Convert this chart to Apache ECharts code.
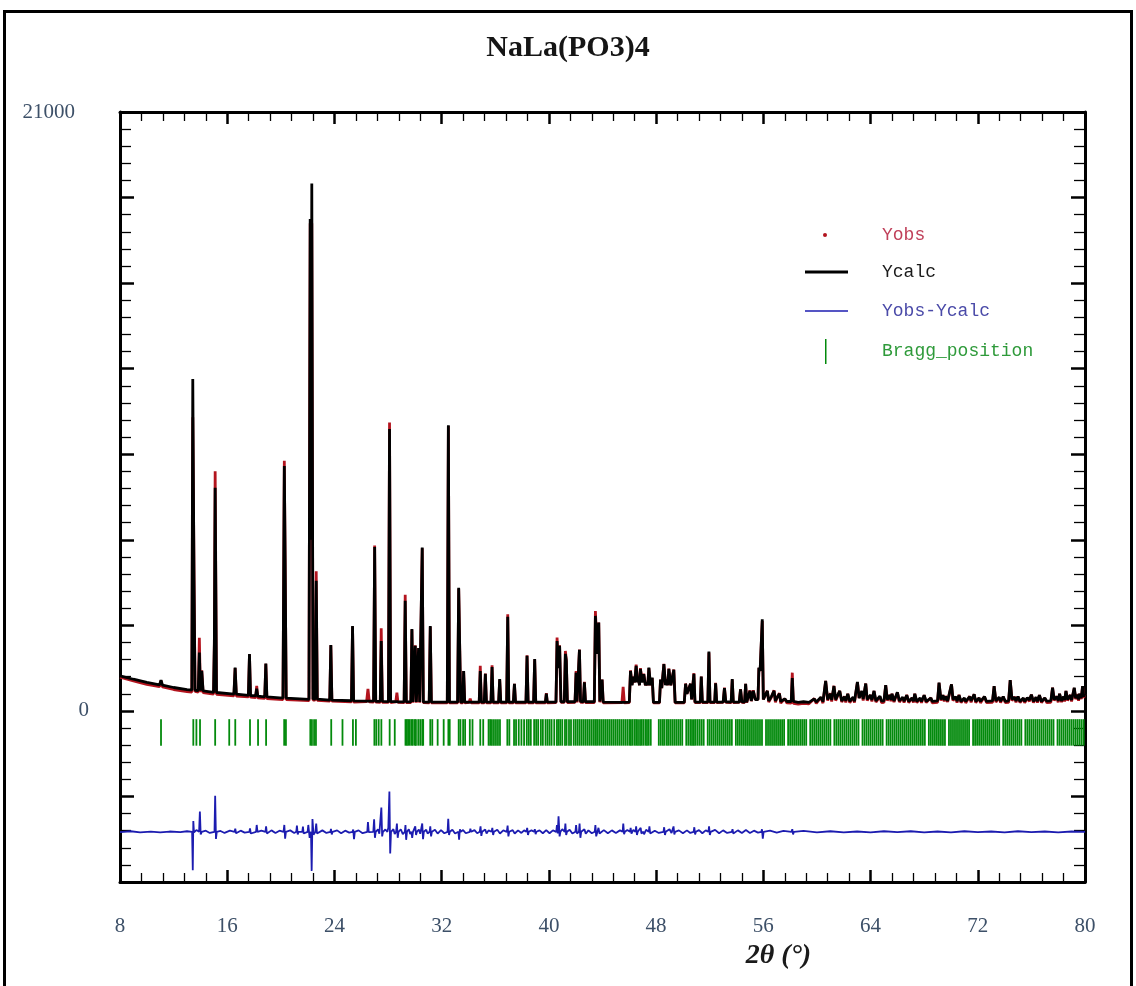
<!DOCTYPE html>
<html>
<head>
<meta charset="utf-8">
<script src="https://cdn.jsdelivr.net/npm/echarts@6/dist/echarts.min.js"></script>
<style>
html,body{margin:0;padding:0;background:#fff;}
#chart{width:1136px;height:986px;}
</style>
</head>
<body>
<div id="chart"></div>
<script>
// ---------------- DATA ----------------
var chartTitle = 'NaLa(PO3)4';
var xTicks = [8, 16, 24, 32, 40, 48, 56, 64, 72, 80];
var yLabelValues = [0, 21000];

// profile vertices: 2theta, calculated and observed counts
var twoTheta = [
 8.0, 9.0, 10.0, 10.95, 11.06, 11.17, 12.0, 13.0, 13.36, 13.43,
 13.52, 13.6, 13.84, 13.92, 14.0, 14.1, 14.2, 14.98, 15.04, 15.1,
 15.2, 16.5, 16.59, 16.68, 17.58, 17.66, 17.74, 18.12, 18.2, 18.28,
 18.8, 18.88, 18.96, 20.16, 20.26, 20.32, 20.4, 22.1, 22.19, 22.25,
 22.31, 22.4, 22.56, 22.64, 22.72, 23.65, 23.73, 23.81, 25.27, 25.35,
 25.43, 26.4, 26.5, 26.6, 26.92, 27.0, 27.08, 27.42, 27.49, 27.57,
 28.03, 28.11, 28.19, 28.58, 28.66, 28.74, 29.2, 29.28, 29.36, 29.7,
 29.78, 29.86, 29.95, 30.03, 30.11, 30.2, 30.28, 30.36, 30.47, 30.55,
 30.63, 31.07, 31.15, 31.23, 32.42, 32.5, 32.58, 33.19, 33.27, 33.35,
 33.42, 33.57, 33.64, 33.72, 34.05, 34.13, 34.21, 34.8, 34.88, 34.96,
 35.18, 35.26, 35.34, 35.68, 35.76, 35.84, 36.25, 36.33, 36.41, 36.85,
 36.93, 37.01, 37.35, 37.43, 37.51, 38.29, 38.37, 38.45, 38.86, 38.94,
 39.02, 39.74, 39.81, 39.88, 40.53, 40.61, 40.7, 40.8, 40.9, 41.15,
 41.23, 41.3, 41.38, 41.95, 42.03, 42.1, 42.2, 42.28, 42.36, 42.57,
 42.65, 42.73, 43.39, 43.47, 43.6, 43.72, 43.8, 43.9, 43.97, 44.05,
 45.45, 45.54, 45.63, 46.0, 46.09, 46.2, 46.3, 46.4, 46.51, 46.62,
 46.7, 46.76, 46.83, 46.95, 47.08, 47.2, 47.3, 47.38, 47.46, 47.58,
 47.71, 47.8, 48.25, 48.33, 48.42, 48.58, 48.7, 48.8, 48.87, 48.95,
 49.1, 49.32, 49.42, 50.1, 50.2, 50.3, 50.57, 50.65, 50.82, 50.9,
 51.3, 51.37, 51.45, 51.86, 51.94, 52.02, 52.37, 52.44, 52.52, 53.0,
 53.1, 53.2, 53.6, 53.68, 53.76, 54.2, 54.3, 54.4, 54.6, 54.68,
 54.76, 55.0, 55.1, 55.25, 55.4, 55.6, 55.67, 55.76, 55.92, 56.0,
 56.15, 56.3, 56.4, 56.6, 56.8, 56.9, 57.05, 57.2, 57.3, 57.6,
 57.75, 58.08, 58.16, 58.24, 58.6, 59.0, 59.4, 59.8, 59.95, 60.3,
 60.45, 60.55, 60.65, 60.8, 61.0, 61.1, 61.27, 61.4, 61.55, 61.7,
 61.85, 62.05, 62.15, 62.3, 62.45, 62.7, 62.8, 62.9, 63.02, 63.15,
 63.35, 63.45, 63.64, 63.75, 64.0, 64.1, 64.26, 64.4, 64.7, 64.82,
 65.0, 65.13, 65.25, 65.45, 65.52, 65.6, 65.75, 66.0, 66.15, 66.4,
 66.5, 66.7, 66.85, 67.1, 67.2, 67.3, 67.45, 67.7, 67.8, 68.0,
 68.15, 68.5, 68.6, 69.0, 69.11, 69.25, 69.4, 69.5, 69.6, 69.75,
 70.04, 70.15, 70.35, 70.45, 70.6, 70.75, 71.0, 71.1, 71.4, 71.5,
 71.73, 71.85, 72.1, 72.2, 72.5, 72.65, 73.1, 73.22, 73.35, 73.6,
 73.7, 73.9, 74.05, 74.3, 74.42, 74.55, 74.75, 74.85, 75.0, 75.15,
 75.4, 75.5, 75.7, 75.85, 76.0, 76.15, 76.35, 76.45, 76.6, 76.75,
 77.0, 77.15, 77.45, 77.58, 77.7, 77.9, 78.0, 78.1, 78.25, 78.4,
 78.48, 78.58, 78.7, 78.9, 79.0, 79.2, 79.3, 79.45, 79.52, 79.6,
 79.72, 79.82, 79.9, 80.0
];
var yCalc = [
 1230, 1110, 1000, 915, 1080, 905, 820, 745, 725, 11640,
 4620, 720, 715, 2050, 710, 1400, 700, 650, 2350, 7820,
 645, 590, 1520, 585, 545, 1990, 540, 525, 780, 515,
 495, 1660, 490, 450, 8590, 5330, 445, 405, 17250, 6000,
 18490, 420, 415, 4560, 410, 380, 2310, 378, 355, 2980,
 352, 345, 345, 342, 340, 5750, 338, 335, 2450, 335,
 325, 9880, 325, 322, 322, 320, 318, 3860, 316, 315,
 2870, 315, 315, 2280, 315, 315, 2200, 312, 312, 5730,
 312, 310, 2980, 310, 305, 10020, 305, 305, 4320, 2100,
 305, 305, 1400, 305, 305, 305, 305, 305, 1400, 305,
 305, 1300, 305, 305, 1540, 305, 305, 1120, 305, 305,
 3300, 305, 305, 950, 305, 305, 1930, 305, 305, 1820,
 305, 305, 600, 305, 310, 2450, 1500, 2280, 320, 320,
 2000, 1750, 320, 320, 1340, 330, 330, 2140, 330, 320,
 1000, 320, 320, 3330, 2000, 3100, 330, 320, 1100, 310,
 300, 300, 300, 310, 1400, 900, 1200, 1000, 1580, 1000,
 1100, 900, 1470, 1000, 1290, 900, 1000, 900, 1520, 900,
 1170, 300, 300, 1100, 800, 1640, 900, 1100, 900, 1470,
 900, 1440, 300, 300, 950, 600, 950, 400, 1300, 310,
 310, 1200, 310, 310, 2080, 310, 310, 970, 310, 310,
 800, 320, 310, 1120, 310, 310, 750, 320, 310, 950,
 310, 700, 350, 700, 400, 400, 1520, 1400, 3210, 400,
 550, 700, 350, 500, 700, 350, 480, 600, 330, 420,
 330, 330, 1150, 330, 300, 320, 300, 420, 310, 480,
 320, 310, 1050, 400, 600, 380, 870, 400, 550, 700,
 350, 500, 350, 600, 330, 480, 340, 350, 1017, 450,
 700, 420, 960, 400, 550, 380, 700, 350, 520, 340,
 350, 900, 400, 550, 380, 600, 350, 650, 350, 480,
 340, 550, 330, 450, 340, 600, 330, 450, 330, 550,
 330, 450, 330, 350, 990, 400, 550, 380, 500, 350,
 930, 400, 500, 340, 550, 330, 450, 330, 500, 350,
 580, 330, 450, 330, 500, 330, 350, 870, 350, 480,
 340, 500, 330, 350, 1080, 400, 480, 350, 500, 330,
 450, 330, 460, 380, 570, 330, 480, 340, 550, 330,
 450, 340, 350, 810, 400, 500, 350, 600, 350, 500,
 380, 700, 400, 550, 380, 810, 450, 550, 400, 600,
 450, 870, 500, 600
];
var yObs = [
 1180, 1050, 930, 850, 1060, 840, 750, 680, 660, 10300,
 5000, 680, 660, 2560, 660, 1420, 640, 590, 2400, 8400,
 580, 530, 1500, 520, 490, 1980, 480, 470, 875, 460,
 440, 1650, 430, 400, 8770, 5300, 400, 360, 17100, 6000,
 17100, 380, 380, 4900, 370, 340, 2300, 340, 320, 2950,
 310, 330, 770, 320, 310, 5800, 310, 300, 2900, 300,
 300, 10110, 290, 320, 640, 300, 290, 4070, 290, 290,
 2850, 290, 290, 2300, 290, 290, 2200, 290, 290, 5700,
 290, 285, 2950, 285, 280, 9990, 280, 280, 4280, 2150,
 280, 280, 1400, 280, 300, 430, 280, 280, 1580, 280,
 280, 1310, 280, 280, 1600, 280, 280, 1100, 280, 280,
 3390, 280, 280, 950, 280, 280, 1950, 280, 280, 1800,
 280, 280, 620, 280, 290, 2570, 1600, 2300, 300, 300,
 2100, 1800, 290, 300, 1400, 300, 300, 2150, 300, 300,
 1020, 290, 290, 3500, 2050, 3100, 300, 300, 1100, 280,
 290, 840, 280, 290, 1420, 920, 1200, 1000, 1620, 1020,
 1100, 900, 1500, 1020, 1300, 900, 1000, 900, 1500, 900,
 1150, 280, 280, 1100, 800, 1650, 920, 1100, 900, 1480,
 900, 1450, 280, 280, 960, 600, 950, 400, 1320, 290,
 290, 1200, 290, 290, 2050, 290, 290, 980, 290, 300,
 820, 300, 290, 1100, 290, 300, 760, 300, 290, 950,
 290, 720, 340, 720, 400, 400, 1500, 1400, 3150, 400,
 560, 700, 310, 480, 720, 300, 500, 620, 270, 430,
 280, 270, 1340, 260, 240, 260, 250, 430, 260, 470,
 270, 260, 1050, 360, 620, 330, 880, 360, 540, 700,
 310, 510, 300, 600, 290, 470, 290, 300, 1010, 450,
 690, 360, 960, 360, 560, 330, 700, 310, 500, 290,
 300, 900, 360, 560, 340, 600, 310, 650, 310, 470,
 290, 560, 290, 460, 290, 600, 290, 440, 280, 550,
 290, 460, 280, 300, 980, 360, 560, 330, 520, 310,
 930, 360, 490, 290, 560, 290, 440, 280, 510, 300,
 580, 290, 460, 280, 500, 290, 300, 870, 310, 470,
 290, 500, 290, 300, 1080, 360, 490, 300, 510, 290,
 440, 280, 460, 330, 570, 290, 470, 290, 550, 290,
 450, 290, 300, 810, 360, 510, 300, 600, 310, 490,
 330, 700, 360, 560, 330, 800, 410, 560, 350, 600,
 410, 870, 460, 600
];

// difference curve (already shifted down, as plotted)
var diffTheta = [
 8.0, 8.8, 9.5, 10.3, 11.0, 11.7, 12.5, 13.0, 13.38, 13.43,
 13.47, 13.52, 13.7, 13.9, 13.96, 14.02, 14.1, 14.4, 14.7, 15.05,
 15.1, 15.16, 15.22, 15.5, 15.8, 16.2, 16.55, 16.6, 16.66, 16.72,
 17.0, 17.3, 17.65, 17.7, 17.76, 17.82, 18.15, 18.2, 18.26, 18.55,
 18.85, 18.9, 18.96, 19.02, 19.3, 19.6, 19.9, 20.2, 20.26, 20.32,
 20.38, 20.7, 21.0, 21.15, 21.2, 21.26, 21.32, 21.6, 21.65, 21.7,
 21.76, 22.0, 22.05, 22.15, 22.25, 22.3, 22.36, 22.44, 22.58, 22.64,
 22.7, 22.76, 23.1, 23.4, 23.7, 23.74, 23.8, 23.86, 24.2, 24.5,
 24.8, 25.1, 25.35, 25.4, 25.46, 25.52, 25.8, 26.1, 26.45, 26.5,
 26.56, 26.62, 26.9, 26.96, 27.02, 27.08, 27.25, 27.35, 27.44, 27.5,
 27.56, 27.62, 27.8, 27.95, 28.02, 28.1, 28.16, 28.22, 28.4, 28.5,
 28.6, 28.66, 28.72, 28.78, 28.95, 29.1, 29.25, 29.3, 29.35, 29.41,
 29.55, 29.65, 29.75, 29.8, 29.86, 29.98, 30.03, 30.09, 30.15, 30.3,
 30.4, 30.5, 30.55, 30.61, 30.67, 30.85, 30.95, 31.1, 31.15, 31.21,
 31.27, 31.5, 31.7, 31.95, 32.2, 32.44, 32.49, 32.55, 32.61, 32.8,
 33.0, 33.25, 33.3, 33.36, 33.42, 33.6, 33.8, 34.1, 34.14, 34.2,
 34.45, 34.65, 34.84, 34.9, 34.96, 35.02, 35.25, 35.35, 35.5, 35.72,
 35.78, 35.84, 35.9, 36.15, 36.35, 36.6, 36.86, 36.92, 36.98, 37.04,
 37.3, 37.45, 37.7, 37.95, 38.15, 38.32, 38.38, 38.44, 38.5, 38.7,
 38.9, 38.95, 39.01, 39.07, 39.3, 39.55, 39.8, 40.05, 40.3, 40.55,
 40.6, 40.66, 40.72, 40.8, 40.86, 41.0, 41.18, 41.23, 41.29, 41.35,
 41.55, 41.75, 41.98, 42.03, 42.09, 42.24, 42.29, 42.35, 42.41, 42.65,
 42.75, 42.95, 43.2, 43.42, 43.47, 43.53, 43.7, 43.78, 43.84, 44.1,
 44.4, 44.7, 45.0, 45.3, 45.5, 45.55, 45.61, 45.67, 45.85, 46.05,
 46.1, 46.16, 46.3, 46.46, 46.51, 46.57, 46.63, 46.75, 46.85, 46.9,
 47.05, 47.1, 47.25, 47.45, 47.5, 47.56, 47.62, 47.9, 48.2, 48.55,
 48.6, 48.66, 48.72, 49.0, 49.15, 49.3, 49.36, 49.42, 49.7, 50.0,
 50.3, 50.55, 50.8, 50.85, 50.91, 50.97, 51.2, 51.45, 51.7, 51.9,
 51.95, 52.01, 52.07, 52.4, 52.7, 53.0, 53.3, 53.65, 53.7, 53.76,
 53.82, 54.1, 54.4, 54.7, 55.0, 55.3, 55.6, 55.85, 55.9, 55.96,
 56.02, 56.5, 57.0, 57.5, 58.1, 58.16, 58.22, 58.28, 59.0, 60.0,
 61.0, 62.0, 63.0, 64.0, 65.0, 66.0, 67.0, 68.0, 69.0, 70.0,
 71.0, 72.0, 73.0, 74.0, 75.0, 76.0, 77.0, 78.0, 79.0, 80.0
];
var diffCounts = [
 -4250, -4220, -4260, -4230, -4260, -4230, -4250, -4220, -4240, -5590,
 -3860, -4260, -4180, -4240, -3530, -4330, -4240, -4200, -4280, -4240,
 -2980, -4490, -4240, -4210, -4280, -4200, -4240, -4130, -4290, -4240,
 -4200, -4270, -4240, -4120, -4300, -4240, -4240, -4000, -4240, -4200,
 -4240, -4050, -4300, -4240, -4190, -4280, -4200, -4240, -4000, -4480,
 -4240, -4190, -4280, -4240, -4020, -4330, -4240, -4240, -4060, -4300,
 -4240, -4240, -4000, -4450, -4240, -5610, -3790, -4340, -4240, -3950,
 -4300, -4240, -4190, -4280, -4240, -4140, -4330, -4240, -4190, -4290,
 -4200, -4270, -4240, -4160, -4500, -4240, -4190, -4290, -4240, -3900,
 -4250, -4240, -4240, -3800, -4450, -4240, -4150, -4310, -4240, -3390,
 -4400, -4240, -4160, -4240, -4100, -2830, -5000, -4240, -4150, -4320,
 -4240, -3950, -4450, -4240, -4150, -4320, -4240, -4000, -4520, -4240,
 -4150, -4320, -4240, -4450, -4240, -4240, -4050, -4350, -4240, -4160,
 -4310, -4240, -3950, -4500, -4240, -4170, -4300, -4240, -4050, -4400,
 -4240, -4170, -4300, -4180, -4290, -4240, -3780, -4350, -4240, -4170,
 -4300, -4240, -4520, -4150, -4240, -4180, -4290, -4240, -4130, -4240,
 -4180, -4290, -4240, -4050, -4380, -4240, -4160, -4300, -4190, -4240,
 -4100, -4350, -4240, -4170, -4300, -4190, -4240, -4020, -4400, -4240,
 -4180, -4300, -4190, -4280, -4190, -4240, -4100, -4350, -4240, -4190,
 -4240, -4150, -4320, -4240, -4190, -4290, -4180, -4290, -4190, -4240,
 -4000, -4300, -3700, -4400, -4240, -4150, -4240, -3950, -4350, -4240,
 -4170, -4300, -4240, -4000, -4300, -4240, -3950, -4450, -4240, -4150,
 -4310, -4190, -4290, -4240, -4000, -4400, -4100, -4300, -4240, -4180,
 -4290, -4190, -4280, -4190, -4240, -3950, -4320, -4240, -4180, -4240,
 -4100, -4300, -4170, -4240, -4050, -4350, -4240, -4170, -4100, -4300,
 -4240, -4330, -4170, -4240, -4050, -4300, -4240, -4200, -4280, -4240,
 -4080, -4350, -4240, -4150, -4280, -4050, -4330, -4240, -4190, -4290,
 -4190, -4280, -4240, -4080, -4330, -4240, -4180, -4290, -4190, -4240,
 -4050, -4350, -4240, -4170, -4290, -4190, -4280, -4240, -4150, -4300,
 -4240, -4190, -4280, -4180, -4280, -4200, -4270, -4240, -4150, -4480,
 -4240, -4200, -4270, -4210, -4240, -4150, -4330, -4240, -4210, -4260,
 -4220, -4260, -4230, -4260, -4220, -4250, -4220, -4260, -4230, -4260,
 -4220, -4250, -4230, -4260, -4220, -4250, -4230, -4260, -4230, -4240
];

// Bragg reflection positions (2theta)
var braggPos = [
 11.06, 13.47, 13.7, 13.97, 15.1, 16.15, 16.6, 17.7, 18.3, 18.9,
 20.25, 20.38, 22.2, 22.32, 22.48, 22.62, 23.76, 24.6, 25.38, 25.6,
 26.98, 27.12, 27.3, 27.5, 28.12, 28.5, 29.3, 29.4, 29.5, 29.62,
 29.75, 29.85, 30.0, 30.08, 30.25, 30.4, 30.55, 30.62, 31.15, 31.3,
 31.7, 32.15, 32.5, 32.6, 33.27, 33.4, 33.6, 33.75, 34.1, 34.3,
 34.88, 35.1, 35.5, 35.62, 35.75, 35.9, 36.05, 36.2, 36.35, 36.9,
 37.05, 37.4, 37.55, 37.75, 37.95, 38.15, 38.35, 38.5, 38.65, 38.9,
 39.05, 39.2, 39.4, 39.55, 39.75, 39.9, 40.05, 40.2, 40.4, 40.6,
 40.72, 40.85, 41.0, 41.2, 41.32, 41.5, 41.65, 41.85, 42.0, 42.15,
 42.3, 42.45, 42.6, 42.75, 42.9, 43.05, 43.2, 43.35, 43.48, 43.6,
 43.75, 43.9, 44.05, 44.2, 44.35, 44.5, 44.65, 44.8, 44.95, 45.1,
 45.25, 45.4, 45.55, 45.7, 45.85, 46.0, 46.12, 46.25, 46.4, 46.52,
 46.65, 46.8, 46.92, 47.05, 47.2, 47.32, 47.45, 47.6,
 48.2, 48.35, 48.5, 48.62, 48.78, 48.9, 49.05, 49.2, 49.35, 49.5,
 49.65, 49.8, 49.95, 50.25, 50.4, 50.55, 50.68, 50.82, 50.95, 51.1,
 51.25, 51.4, 51.55, 51.85, 52.0, 52.15, 52.3, 52.45, 52.6, 52.75,
 52.9, 53.05, 53.2, 53.35, 53.5, 53.65, 53.95, 54.1, 54.25, 54.4,
 54.55, 54.7, 54.85, 55.0, 55.15, 55.3, 55.45, 55.6, 55.75, 55.9,
 56.2, 56.35, 56.5, 56.65, 56.8, 56.95, 57.1, 57.25, 57.4, 57.55,
 57.85, 58.0, 58.15, 58.3, 58.45, 58.6, 58.75, 58.9, 59.05, 59.2,
 59.5, 59.65, 59.8, 59.95, 60.1, 60.25, 60.4, 60.55, 60.7, 60.85,
 61.0, 61.3, 61.45, 61.6, 61.75, 61.9, 62.05, 62.2, 62.35, 62.5,
 62.65, 62.8, 62.95, 63.1, 63.4, 63.55, 63.7, 63.85, 64.0, 64.15,
 64.3, 64.45, 64.6, 64.75, 64.9, 65.2, 65.35, 65.5, 65.65, 65.8,
 65.95, 66.1, 66.25, 66.4, 66.55, 66.7, 66.85, 67.0, 67.15, 67.3,
 67.45, 67.6, 67.75, 67.9, 68.05, 68.35, 68.5, 68.65, 68.8, 68.95,
 69.1, 69.25, 69.4, 69.55, 69.85, 70.0, 70.15, 70.3, 70.45, 70.6,
 70.75, 70.9, 71.05, 71.2, 71.35, 71.65, 71.8, 71.95, 72.1, 72.25,
 72.4, 72.55, 72.7, 72.85, 73.0, 73.15, 73.3, 73.45, 73.6, 73.9,
 74.05, 74.2, 74.35, 74.5, 74.65, 74.8, 74.95, 75.1, 75.25, 75.55,
 75.7, 75.85, 76.0, 76.15, 76.3, 76.45, 76.6, 76.75, 76.9, 77.05,
 77.2, 77.35, 77.5, 77.65, 77.95, 78.1, 78.25, 78.4, 78.55, 78.7,
 78.85, 79.0, 79.15, 79.3, 79.45, 79.6, 79.75, 79.9
];
var braggTop = -290;
var braggBottom = -1220;

// ---------------- CHART ----------------
var obsData = twoTheta.map(function (t, i) { return [t, yObs[i]]; });
var calcData = twoTheta.map(function (t, i) { return [t, yCalc[i]]; });
var diffData = diffTheta.map(function (t, i) { return [t, diffCounts[i]]; });
var braggData = braggPos.map(function (t) { return [t, braggTop, braggBottom]; });

var labelFont = '"Liberation Serif", "DejaVu Serif", serif';
var monoFont = '"Liberation Mono", "DejaVu Sans Mono", monospace';
var labelColor = '#3d5068';

// one legend box per entry so that every key can have its own symbol size
function legendBox(name, icon, left, w, h, top, pad, color) {
  return {
    orient: 'vertical', left: left, top: top, padding: 0,
    itemWidth: w, itemHeight: h, itemGap: 0,
    selectedMode: false,
    itemStyle: { borderWidth: 0 },
    data: [{ name: name, icon: icon }],
    formatter: '{t|{name}}',
    textStyle: {
      rich: { t: { padding: [0, 0, 0, pad], color: color, fontFamily: monoFont, fontSize: 18, lineHeight: 22 } }
    }
  };
}

var xAxisBase = {
  type: 'value', min: 8, max: 80, interval: 8,
  axisLine: { show: true, onZero: false, lineStyle: { color: '#000', width: 3 } },
  axisTick: { show: true, inside: true, length: 12, lineStyle: { color: '#000', width: 2.5 } },
  minorTick: { show: true, splitNumber: 5, length: 9, lineStyle: { color: '#000', width: 1.3 } },
  splitLine: { show: false }, minorSplitLine: { show: false }
};
var yAxisBase = {
  type: 'value', min: -6000, max: 21000, interval: 3000,
  axisLine: { show: true, onZero: false, lineStyle: { color: '#000', width: 3 } },
  axisTick: { show: true, inside: true, length: 14, lineStyle: { color: '#000', width: 2.5 } },
  minorTick: { show: true, splitNumber: 5, length: 11, lineStyle: { color: '#000', width: 1.3 } },
  splitLine: { show: false }, minorSplitLine: { show: false }
};

var option = {
  backgroundColor: '#ffffff',
  animation: false,
  title: {
    text: chartTitle, left: 'center', top: 28,
    textStyle: { fontFamily: labelFont, fontWeight: 'bold', fontSize: 30, color: '#151515' }
  },
  graphic: [{
    type: 'rect', silent: true,
    shape: { x: 4.5, y: 11.5, width: 1127, height: 1000 },
    style: { fill: 'none', stroke: '#000', lineWidth: 3 }
  }],
  legend: [
    legendBox('Yobs', 'circle', 823, 4, 4, 226, 50, '#c0405a'),
    legendBox('Ycalc', 'rect', 805, 43, 3, 263, 29, '#1a1a1a'),
    legendBox('Yobs-Ycalc', 'rect', 805, 43, 1.5, 302, 29, '#4a4aa8'),
    legendBox('Bragg_position', 'rect', 825, 1.5, 25, 339, 50.5, '#2e9a3a')
  ],
  grid: { left: 120, right: 51, top: 112, bottom: 104, containLabel: false, outerBoundsMode: 'none' },
  xAxis: [
    Object.assign({}, xAxisBase, {
      position: 'bottom',
      axisLabel: {
        show: true, margin: 34, color: labelColor, fontFamily: labelFont, fontSize: 21,
        formatter: function (v) { return xTicks.indexOf(v) >= 0 ? String(v) : ''; }
      },
      name: '2\u03b8 (\u00b0)', nameLocation: 'middle', nameGap: 58,
      nameTextStyle: { fontFamily: labelFont, fontWeight: 'bold', fontStyle: 'italic', fontSize: 28, color: '#1a1a1a', padding: [0, 0, 0, 352] }
    }),
    Object.assign({}, xAxisBase, { position: 'top', axisLabel: { show: false } })
  ],
  yAxis: [
    Object.assign({}, yAxisBase, {
      position: 'left',
      axisLabel: {
        show: true, margin: 31, color: labelColor, fontFamily: labelFont, fontSize: 21,
        formatter: function (v) {
          if (yLabelValues.indexOf(v) < 0) return '';
          return v === 0 ? String(v) : '{a|' + v + '}';
        },
        rich: { a: { padding: [0, 14, 0, 0], color: labelColor, fontFamily: labelFont, fontSize: 21 } }
      }
    }),
    Object.assign({}, yAxisBase, { position: 'right', axisLabel: { show: false } })
  ],
  series: [
    {
      name: 'Yobs', type: 'line', data: obsData, symbol: 'none', z: 2,
      color: '#b3141e', lineStyle: { color: '#b3141e', width: 2.8 }
    },
    {
      name: 'Ycalc', type: 'line', data: calcData, symbol: 'none', z: 3,
      color: '#000000', lineStyle: { color: '#000000', width: 2.8 }
    },
    {
      name: 'Yobs-Ycalc', type: 'line', data: diffData, symbol: 'none', z: 3,
      color: '#1c1cb0', lineStyle: { color: '#1c1cb0', width: 1.8 }
    },
    {
      name: 'Bragg_position', type: 'custom', data: braggData, z: 2,
      color: '#038a0c',
      encode: { x: 0, y: [1, 2] },
      renderItem: function (params, api) {
        var p1 = api.coord([api.value(0), api.value(1)]);
        var p2 = api.coord([api.value(0), api.value(2)]);
        return {
          type: 'line',
          shape: { x1: p1[0], y1: p1[1], x2: p2[0], y2: p2[1] },
          style: { stroke: api.visual('color'), lineWidth: 1.8 }
        };
      }
    }
  ]
};

var chart = echarts.init(document.getElementById('chart'), null, { renderer: 'canvas' });
chart.setOption(option);
</script>
</body>
</html>
